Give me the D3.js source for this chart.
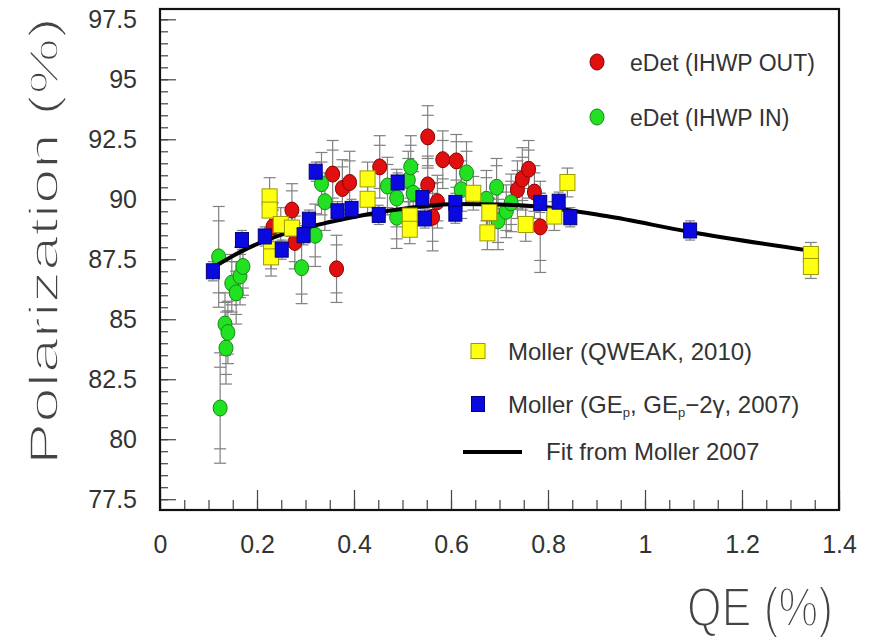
<!DOCTYPE html>
<html>
<head>
<meta charset="utf-8">
<script src="https://cdn.jsdelivr.net/npm/d3@7"></script>
<style>
  html, body { margin: 0; padding: 0; background: #fff; }
  svg { display: block; }
  text { font-family: "Liberation Sans", Arial, sans-serif; }
</style>
</head>
<body>
<svg id="chart" width="870" height="641"></svg>
<script>
// ---- eDet, IHWP OUT (red circles) ----
const outQE      = [0.233, 0.272, 0.278, 0.356, 0.364, 0.376, 0.391, 0.453, 0.552, 0.552, 0.562, 0.572, 0.583, 0.611, 0.737, 0.747, 0.760, 0.772, 0.784];
const outPol     = [88.85, 89.55, 88.2, 91.05, 87.1, 90.45, 90.7, 91.35, 92.6, 90.6, 89.25, 89.9, 91.65, 91.6, 90.4, 90.85, 91.25, 90.3, 88.85];
const outErrTot  = [1.0, 1.1, 1.1, 1.4, 1.4, 1.2, 1.3, 1.3, 1.3, 1.2, 1.4, 1.1, 1.2, 1.1, 1.2, 1.3, 1.2, 1.1, 1.9];
const outErrStat = [0.7, 0.8, 0.8, 1.0, 1.0, 0.9, 0.9, 0.9, 0.9, 0.8, 1.0, 0.8, 0.8, 0.8, 0.8, 0.9, 0.8, 0.8, 1.4];

// ---- eDet, IHWP IN (green circles) ----
const inQE      = [0.121, 0.124, 0.134, 0.136, 0.140, 0.148, 0.157, 0.165, 0.171, 0.292, 0.320, 0.333, 0.340, 0.469, 0.488, 0.488, 0.512, 0.517, 0.522, 0.621, 0.632, 0.673, 0.694, 0.697, 0.714, 0.724];
const inPol     = [87.6, 81.3, 84.8, 83.8, 84.45, 86.5, 86.1, 86.8, 87.2, 87.15, 88.5, 90.65, 89.9, 90.55, 90.05, 89.25, 90.8, 91.35, 90.25, 90.4, 91.1, 90.0, 90.5, 89.1, 89.5, 89.85];
const inErrTot  = [2.1, 2.3, 1.3, 1.5, 1.3, 1.2, 1.3, 1.2, 1.2, 1.5, 1.3, 1.3, 1.2, 1.2, 1.2, 1.3, 1.2, 1.3, 1.2, 1.2, 1.3, 1.2, 1.2, 1.2, 1.1, 1.2];
const inErrStat = [1.5, 1.7, 0.9, 1.1, 0.9, 0.9, 0.9, 0.9, 0.9, 1.1, 0.9, 0.9, 0.9, 0.9, 0.9, 0.9, 0.9, 0.9, 0.9, 0.9, 0.9, 0.9, 0.9, 0.9, 0.8, 0.9];

// ---- Moller, QWEAK 2010 (yellow squares) ----
const qwQE  = [0.226, 0.226, 0.229, 0.229, 0.249, 0.272, 0.428, 0.428, 0.515, 0.515, 0.646, 0.675, 0.679, 0.754, 0.813, 0.840, 1.342, 1.342];
const qwPol = [90.1, 89.55, 87.9, 87.6, 88.95, 88.8, 90.85, 90.0, 89.3, 88.75, 90.25, 88.6, 89.45, 88.95, 89.3, 90.7, 87.7, 87.2];
const qwErr = [0.8, 0.8, 0.8, 0.8, 0.7, 0.7, 0.7, 0.7, 0.6, 0.6, 0.7, 0.7, 0.6, 0.7, 0.6, 0.6, 0.5, 0.5];

// ---- Moller, GEp / GEp-2gamma 2007 (blue squares) ----
const gepQE  = [0.109, 0.169, 0.216, 0.251, 0.296, 0.307, 0.321, 0.366, 0.395, 0.451, 0.490, 0.541, 0.546, 0.609, 0.609, 0.784, 0.822, 0.846, 1.093];
const gepPol = [87.0, 88.3, 88.45, 87.9, 88.5, 89.15, 91.15, 89.5, 89.6, 89.35, 90.7, 90.05, 89.2, 89.85, 89.4, 89.85, 89.9, 89.25, 88.7];
const gepErr = [0.4, 0.4, 0.4, 0.4, 0.4, 0.4, 0.4, 0.4, 0.4, 0.4, 0.4, 0.4, 0.4, 0.4, 0.4, 0.4, 0.4, 0.4, 0.4];

// ---- Fit from Moller 2007 (sampled curve) ----
const fitQE  = [0.113, 0.17, 0.22, 0.27, 0.35, 0.45, 0.54, 0.61, 0.70, 0.78, 0.92, 1.09, 1.344];
const fitPol = [87.2, 87.85, 88.3, 88.65, 89.05, 89.45, 89.7, 89.8, 89.78, 89.7, 89.3, 88.65, 87.85];

// ---- axis ticks ----
const xMajor = [0, 0.2, 0.4, 0.6, 0.8, 1, 1.2, 1.4];
const xMinor = d3.range(0, 1.4001, 0.05);
const yMajor = [77.5, 80, 82.5, 85, 87.5, 90, 92.5, 95, 97.5];
const yMinor = d3.range(77.5, 97.9, 0.5);

const legendTop = ["eDet (IHWP OUT)", "eDet (IHWP IN)"];

// ---- layout ----
const frame = { left: 160, right: 839, top: 9, bottom: 510 };
const svg = d3.select("#chart");

const x = d3.scaleLinear().domain([0, 1.4]).range([frame.left, frame.right]);
const y = d3.scaleLinear().domain([77.05, 97.93]).range([frame.bottom, frame.top]);

const colors = {
  red:    { fill: "#e01010", stroke: "#8a0000" },
  green:  { fill: "#22e022", stroke: "#138a13" },
  yellow: { fill: "#ffff10", stroke: "#9a9a00" },
  blue:   { fill: "#0a0ae0", stroke: "#00007a" }
};

const zip = (q, p, e1, e2) => q.map((d, i) => ({ qe: d, pol: p[i], err: e1[i], stat: e2 ? e2[i] : null }));
const redPts    = zip(outQE, outPol, outErrTot, outErrStat);
const greenPts  = zip(inQE, inPol, inErrTot, inErrStat);
const yellowPts = zip(qwQE, qwPol, qwErr);
const bluePts   = zip(gepQE, gepPol, gepErr);

// ---- axes (ticks point into the frame) ----
const gx = svg.append("g").attr("transform", `translate(0,${frame.bottom})`);
gx.append("g").call(d3.axisBottom(x).tickValues(xMinor).tickSize(-10).tickFormat(""));
gx.append("g").call(d3.axisBottom(x).tickValues(xMajor).tickSize(-20).tickPadding(25).tickFormat(d => String(d)));
gx.selectAll(".domain").remove();
gx.selectAll("line").attr("stroke", "#444").attr("stroke-width", 1.2);
gx.selectAll("text").attr("font-size", 25).attr("fill", "#333")
  .attr("font-family", "Liberation Sans, Arial, sans-serif");

const gy = svg.append("g").attr("transform", `translate(${frame.left},0)`);
gy.append("g").call(d3.axisLeft(y).tickValues(yMinor).tickSize(-8).tickFormat(""));
gy.append("g").call(d3.axisLeft(y).tickValues(yMajor).tickSize(-16).tickPadding(23).tickFormat(d => String(d)));
gy.selectAll(".domain").remove();
gy.selectAll("line").attr("stroke", "#444").attr("stroke-width", 1.2);
gy.selectAll("text").attr("font-size", 25).attr("fill", "#333")
  .attr("font-family", "Liberation Sans, Arial, sans-serif");

// ---- frame ----
svg.append("rect")
  .attr("x", frame.left).attr("y", frame.top)
  .attr("width", frame.right - frame.left).attr("height", frame.bottom - frame.top)
  .attr("fill", "none").attr("stroke", "#111").attr("stroke-width", 2.2);

// ---- error bars ----
const ebar = svg.append("g").attr("stroke", "#808080").attr("stroke-width", 1.2).attr("fill", "none");
function drawErrors(pts, capW) {
  pts.forEach(d => {
    const cx = x(d.qe);
    ebar.append("line").attr("x1", cx).attr("x2", cx).attr("y1", y(d.pol - d.err)).attr("y2", y(d.pol + d.err));
    const caps = [d.pol - d.err, d.pol + d.err];
    if (d.stat != null) caps.push(d.pol - d.stat, d.pol + d.stat);
    caps.forEach(v => {
      ebar.append("line").attr("x1", cx - capW / 2).attr("x2", cx + capW / 2).attr("y1", y(v)).attr("y2", y(v));
    });
  });
}
drawErrors(redPts, 12);
drawErrors(greenPts, 12);
drawErrors(yellowPts, 12);
drawErrors(bluePts, 10);

// ---- eDet circles ----
function drawCircles(pts, c) {
  svg.append("g").selectAll("ellipse").data(pts).join("ellipse")
    .attr("cx", d => x(d.qe)).attr("cy", d => y(d.pol))
    .attr("rx", 7).attr("ry", 8)
    .attr("fill", c.fill).attr("stroke", c.stroke).attr("stroke-width", 1);
}
drawCircles(redPts, colors.red);
drawCircles(greenPts, colors.green);

// ---- fit curve ----
const fitPts = fitQE.map((q, i) => [q, fitPol[i]]);
svg.append("path")
  .datum(fitPts)
  .attr("d", d3.line().x(d => x(d[0])).y(d => y(d[1])).curve(d3.curveMonotoneX))
  .attr("fill", "none").attr("stroke", "#000").attr("stroke-width", 4);

// ---- Moller squares ----
function drawSquares(pts, c, w, h) {
  svg.append("g").selectAll("rect").data(pts).join("rect")
    .attr("x", d => x(d.qe) - w / 2).attr("y", d => y(d.pol) - h / 2)
    .attr("width", w).attr("height", h)
    .attr("fill", c.fill).attr("stroke", c.stroke).attr("stroke-width", 1);
}
drawSquares(yellowPts, colors.yellow, 15, 16);
drawSquares(bluePts, colors.blue, 13, 15);

// ---- legend, upper right ----
const lg = svg.append("g");
[[colors.red, 62, 71], [colors.green, 117, 126]].forEach(([c, cy, by], i) => {
  lg.append("ellipse").attr("cx", 597).attr("cy", cy).attr("rx", 7).attr("ry", 8)
    .attr("fill", c.fill).attr("stroke", c.stroke).attr("stroke-width", 1);
  lg.append("text").attr("x", 630).attr("y", by).attr("font-size", 23).attr("fill", "#333").text(legendTop[i]);
});

// ---- legend, lower ----
lg.append("rect").attr("x", 478 - 7).attr("y", 351 - 7.5).attr("width", 14).attr("height", 15)
  .attr("fill", colors.yellow.fill).attr("stroke", colors.yellow.stroke);
lg.append("text").attr("x", 508).attr("y", 360).attr("font-size", 24).attr("fill", "#333")
  .text("Moller (QWEAK, 2010)");

lg.append("rect").attr("x", 478 - 6.5).attr("y", 404 - 7.5).attr("width", 13).attr("height", 15)
  .attr("fill", colors.blue.fill).attr("stroke", colors.blue.stroke);
const t2 = lg.append("text").attr("x", 508).attr("y", 413).attr("font-size", 24).attr("fill", "#333");
t2.append("tspan").text("Moller (GE");
t2.append("tspan").attr("font-size", 13).attr("dy", 4).text("p");
t2.append("tspan").attr("dy", -4).text(", GE");
t2.append("tspan").attr("font-size", 13).attr("dy", 4).text("p");
t2.append("tspan").attr("dy", -4).text("\u22122\u03b3, 2007)");

lg.append("line").attr("x1", 463).attr("x2", 522).attr("y1", 452).attr("y2", 452)
  .attr("stroke", "#000").attr("stroke-width", 4);
lg.append("text").attr("x", 546).attr("y", 460).attr("font-size", 24).attr("fill", "#333")
  .text("Fit from Moller 2007");

// ---- axis titles: thin grey lettering (a white stroke trims the glyph edges) ----
svg.append("text")
  .attr("transform", "translate(58,241) rotate(-90) scale(1,0.78)")
  .attr("text-anchor", "middle")
  .attr("font-size", 52).attr("fill", "#444")
  .attr("stroke", "#fff").attr("stroke-width", 2.0)
  .attr("textLength", 448).attr("lengthAdjust", "spacingAndGlyphs")
  .text("Polarization (%)");

svg.append("text")
  .attr("x", 687).attr("y", 626)
  .attr("font-size", 56).attr("fill", "#444")
  .attr("stroke", "#fff").attr("stroke-width", 2.0)
  .attr("textLength", 146).attr("lengthAdjust", "spacingAndGlyphs")
  .text("QE (%)");
</script>
</body>
</html>
